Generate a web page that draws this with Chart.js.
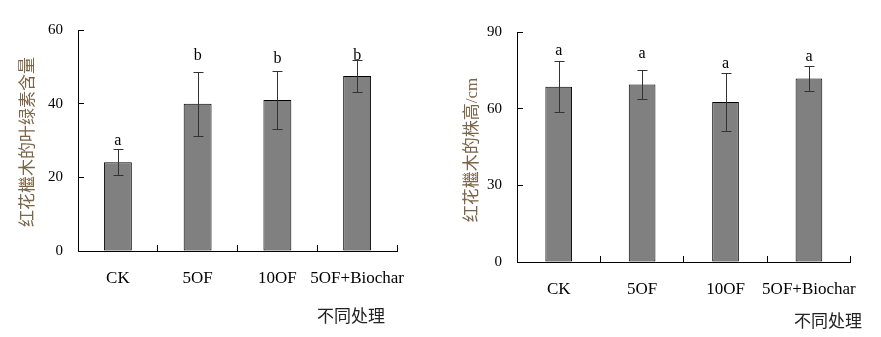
<!DOCTYPE html>
<html>
<head>
<meta charset="utf-8">
<script src="https://cdn.jsdelivr.net/npm/chart.js@4.4.1/dist/chart.umd.min.js"></script>
<style>
body { margin: 0; background: #fff; width: 881px; height: 337px; position: relative; overflow: hidden; }
canvas { position: absolute; top: 0; }
#leftChart { left: 0; }
#rightChart { left: 440px; }
</style>
</head>
<body>
<canvas id="leftChart" width="440" height="337"></canvas>
<canvas id="rightChart" width="441" height="337"></canvas>
<script>
// data
var categories = ['CK', '5OF', '10OF', '5OF+Biochar'];

var chlorophyll = [24.1, 40.0, 41.0, 47.5];
var chlorophyllErr = [3.6, 8.7, 7.8, 4.3];
var chlorophyllLetters = ['a', 'b', 'b', 'b'];
var chlorophyllLetterY = [30.0, 52.9, 52.1, 53.1];
var chlorophyllTicks = [0, 20, 40, 60];

var plantHeight = [68.6, 69.5, 62.6, 71.8];
var plantHeightErr = [9.9, 5.8, 11.5, 4.9];
var plantHeightLetters = ['a', 'a', 'a', 'a'];
var plantHeightLetterY = [82.6, 81.6, 77.7, 80.3];
var plantHeightTicks = [0, 30, 60, 90];

var serif = '"Liberation Serif", "Times New Roman", serif';
var cjk = '"Liberation Serif", "Noto Sans CJK SC", serif';

// error bars + significance letters
var errorBarPlugin = {
    id: 'errorBars',
    afterDatasetsDraw: function(chart, args, o) {
        var ctx = chart.ctx;
        var y = chart.scales.y;
        var meta = chart.getDatasetMeta(0);
        ctx.save();
        ctx.strokeStyle = '#333';
        ctx.lineWidth = 1;
        meta.data.forEach(function(bar, i) {
            var v = o.values[i], e = o.errors[i];
            var x = Math.round(bar.x) + 0.5;
            var yTop = Math.round(y.getPixelForValue(v + e)) + 0.5;
            var yBot = Math.round(y.getPixelForValue(v - e)) + 0.5;
            ctx.beginPath();
            ctx.moveTo(x, yTop); ctx.lineTo(x, yBot);
            ctx.moveTo(x - 5, yTop); ctx.lineTo(x + 5, yTop);
            ctx.moveTo(x - 5, yBot); ctx.lineTo(x + 5, yBot);
            ctx.stroke();
        });
        ctx.fillStyle = '#000';
        ctx.font = '16px ' + serif;
        ctx.textAlign = 'center';
        ctx.textBaseline = 'middle';
        meta.data.forEach(function(bar, i) {
            ctx.fillText(o.letters[i], bar.x, y.getPixelForValue(o.letterY[i]));
        });
        ctx.restore();
    }
};

// axis titles placed like the original figure
var titlePlugin = {
    id: 'axisTitles',
    afterDraw: function(chart, args, o) {
        var ctx = chart.ctx;
        ctx.save();
        ctx.font = '17px ' + cjk;
        ctx.textAlign = 'center';
        ctx.textBaseline = 'middle';
        ctx.fillStyle = '#7a6548';
        ctx.translate(o.yX, o.yY);
        ctx.rotate(-Math.PI / 2);
        ctx.fillText(o.yText, 0, 0);
        ctx.restore();

        ctx.save();
        ctx.font = '17px ' + cjk;
        ctx.textAlign = 'center';
        ctx.textBaseline = 'middle';
        ctx.fillStyle = '#222';
        ctx.fillText(o.xText, o.xX, o.xY);
        ctx.restore();
    }
};

function makeChart(id, values, errors, letters, letterY, ticks, cfg) {
    var ctx = document.getElementById(id).getContext('2d');
    return new Chart(ctx, {
        type: 'bar',
        data: {
            labels: categories,
            datasets: [{
                data: values,
                backgroundColor: '#808080',
                borderColor: '#000',
                borderWidth: 1,
                borderSkipped: false,
                barPercentage: 1,
                categoryPercentage: cfg.catPct
            }]
        },
        options: {
            responsive: false,
            animation: false,
            events: [],
            layout: { padding: { left: 0, top: cfg.top, right: cfg.right, bottom: 0 } },
            plugins: {
                legend: { display: false },
                tooltip: { enabled: false },
                errorBars: { values: values, errors: errors, letters: letters, letterY: letterY },
                axisTitles: cfg.titles
            },
            scales: {
                x: {
                    grid: { drawOnChartArea: false, color: '#000', tickLength: -6, tickColor: '#000', offset: true },
                    border: { color: '#000', width: 1 },
                    ticks: { color: '#000', font: { family: serif, size: 17 }, padding: 23, maxRotation: 0, autoSkip: false },
                    afterFit: function(scale) { scale.height = cfg.xHeight; }
                },
                y: {
                    min: ticks[0],
                    max: ticks[ticks.length - 1],
                    grid: { drawOnChartArea: false, color: '#000', tickLength: -6, tickColor: '#000' },
                    border: { color: '#000', width: 1 },
                    ticks: { color: '#000', font: { family: serif, size: 15 }, padding: 21 },
                    afterBuildTicks: function(scale) {
                        scale.ticks = ticks.map(function(v) { return { value: v }; });
                    },
                    afterFit: function(scale) { scale.width = cfg.yWidth; }
                }
            }
        },
        plugins: [errorBarPlugin, titlePlugin]
    });
}

makeChart('leftChart', chlorophyll, chlorophyllErr, chlorophyllLetters, chlorophyllLetterY, chlorophyllTicks, {
    catPct: 0.35, top: 15, right: 43, xHeight: 86, yWidth: 78,
    titles: { yText: '红花檵木的叶绿素含量', yX: 29, yY: 142, xText: '不同处理', xX: 351, xY: 318 }
});

makeChart('rightChart', plantHeight, plantHeightErr, plantHeightLetters, plantHeightLetterY, plantHeightTicks, {
    catPct: 0.32, top: 32, right: 18, xHeight: 75, yWidth: 77,
    titles: { yText: '红花檵木的株高/cm', yX: 33, yY: 150, xText: '不同处理', xX: 388, xY: 323 }
});
</script>
</body>
</html>
